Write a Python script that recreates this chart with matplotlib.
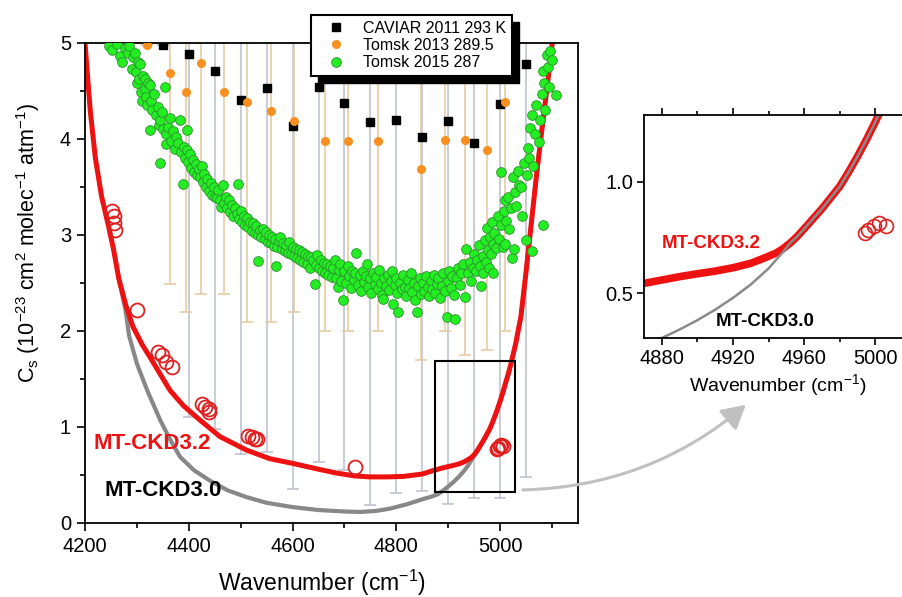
import numpy as np
import matplotlib.pyplot as plt
from matplotlib.patches import Rectangle, FancyArrowPatch
from matplotlib.ticker import MultipleLocator, FormatStrFormatter

plt.rcParams['font.family'] = ['Liberation Sans', 'DejaVu Sans']
plt.rcParams['mathtext.default'] = 'regular'

# MT-CKD3.2 continuum
ckd32_x = [4200, 4210, 4220, 4232, 4245, 4255, 4265, 4278, 4292, 4310,
           4325, 4345, 4364, 4390, 4422, 4460, 4511, 4556, 4601, 4650,
           4685, 4720, 4749, 4780, 4813, 4850, 4870, 4880, 4890, 4900,
           4910, 4920, 4930, 4938, 4944, 4948, 4952, 4956, 4960, 4965,
           4970, 4975, 4980, 4985, 4990, 4995, 5000, 5005, 5010, 5015,
           5020, 5030, 5040, 5050, 5060, 5070, 5080, 5090, 5100, 5110]
ckd32_y = [5.0, 4.3, 3.8, 3.4, 3.1, 2.85, 2.55, 2.28, 2.05, 1.86,
           1.73, 1.55, 1.38, 1.22, 1.07, 0.90, 0.76, 0.67, 0.62, 0.56,
           0.52, 0.49, 0.48, 0.48, 0.485, 0.51, 0.545, 0.56, 0.575, 0.588,
           0.60, 0.615, 0.635, 0.66, 0.68, 0.70, 0.725, 0.755, 0.79, 0.835,
           0.88, 0.93, 0.98, 1.045, 1.115, 1.19, 1.27, 1.355, 1.45, 1.54,
           1.64, 1.87, 2.15, 2.62, 3.12, 3.62, 4.08, 4.52, 4.98, 5.45]

# MT-CKD3.0 continuum (joins 3.2 above ~4948)
ckd30_x = [4265, 4278, 4285, 4300, 4320, 4345, 4365, 4383, 4410, 4441,
           4475, 4511, 4550, 4601, 4650, 4700, 4730, 4760, 4788, 4820,
           4852, 4868, 4880, 4890, 4900, 4910, 4920, 4930, 4940, 4948,
           4952, 4956, 4960, 4965, 4970, 4975, 4980, 4985, 4990, 4995,
           5000, 5005, 5010, 5015, 5020, 5030, 5040, 5050, 5060, 5070,
           5080, 5090, 5100, 5110]
ckd30_y = [2.55, 2.22, 1.95, 1.66, 1.38, 1.07, 0.86, 0.69, 0.55, 0.44,
           0.34, 0.27, 0.21, 0.165, 0.135, 0.12, 0.115, 0.125, 0.15, 0.195,
           0.25, 0.275, 0.30, 0.338, 0.38, 0.427, 0.48, 0.54, 0.612, 0.685,
           0.725, 0.755, 0.79, 0.835, 0.88, 0.93, 0.98, 1.045, 1.115, 1.19,
           1.27, 1.355, 1.45, 1.54, 1.64, 1.87, 2.15, 2.62, 3.12, 3.62,
           4.08, 4.52, 4.98, 5.45]

# open red circles
circ_x = [4252, 4255, 4256, 4258, 4300, 4341, 4348, 4357, 4367,
          4425, 4431, 4438, 4438, 4515, 4521, 4528, 4531, 4720,
          4994, 4996, 4999, 5002, 5006]
circ_y = [3.25, 3.20, 3.12, 3.05, 2.22, 1.78, 1.75, 1.68, 1.63,
          1.24, 1.21, 1.19, 1.16, 0.91, 0.90, 0.88, 0.87, 0.58,
          0.772, 0.786, 0.80, 0.816, 0.80]

# CAVIAR 2011 293 K
cav_x = [4350, 4400, 4450, 4500, 4550, 4600, 4650, 4700, 4750, 4800,
         4850, 4900, 4950, 5000, 5050]
cav_y = [4.98, 4.89, 4.71, 4.41, 4.53, 4.14, 4.54, 4.38, 4.18, 4.20,
         4.02, 4.19, 3.96, 4.36, 4.78]
cav_low = [4.98, 1.10, 0.98, 0.72, 0.74, 0.35, 0.64, 0.55, 0.185, 0.31,
           0.33, 0.195, 0.26, 0.26, 0.48]

# Tomsk 2013 289.5
t13_x = [4319, 4364, 4395, 4424, 4468, 4513, 4558, 4603, 4662, 4707,
         4765, 4847, 4894, 4932, 4974, 5010]
t13_y = [4.98, 4.69, 4.49, 4.79, 4.49, 4.39, 4.29, 4.19, 3.98, 3.98,
         3.98, 3.69, 3.99, 3.99, 3.89, 4.39]
t13_low = [4.98, 2.49, 2.20, 2.39, 2.39, 2.09, 2.09, 2.20, 2.00, 2.00,
           2.00, 1.70, 2.00, 1.75, 1.80, 2.00]

# Tomsk 2015 287
t15_x = [4246, 4252, 4262, 4268, 4271, 4278, 4283, 4285, 4290, 4293,
         4296, 4298, 4300, 4302,
         4305, 4306, 4308, 4309, 4312, 4315, 4316, 4318, 4320, 4322,
         4325, 4325, 4328, 4330, 4333, 4336, 4340, 4342, 4345, 4345,
         4348, 4350, 4354, 4356, 4357, 4360, 4363, 4366, 4370, 4373,
         4376, 4380, 4383, 4385, 4389, 4390, 4393, 4396, 4396, 4398,
         4402, 4405, 4408, 4410, 4413, 4416, 4419, 4422, 4425, 4427,
         4430, 4433, 4436, 4439, 4442, 4445, 4448, 4451, 4454, 4457,
         4460, 4463, 4466, 4468, 4471, 4474, 4477, 4480, 4483, 4486,
         4489, 4492, 4495, 4497, 4500,
         4503, 4506, 4509, 4512, 4515, 4518, 4521, 4524, 4527, 4530,
         4533, 4534, 4537, 4540, 4543, 4546, 4549, 4552, 4555, 4558,
         4561, 4564, 4567, 4569, 4570, 4573, 4576, 4579, 4582, 4585,
         4588, 4591, 4594, 4597, 4600, 4603, 4606, 4609, 4612, 4615,
         4618, 4621, 4624, 4627, 4630, 4633, 4636, 4640, 4643, 4645,
         4648,
         4651, 4654, 4657, 4660, 4663, 4666, 4669, 4672, 4675, 4678,
         4681, 4684, 4688, 4690, 4691, 4694, 4698, 4700, 4703, 4706,
         4709, 4712, 4715, 4718, 4721, 4723, 4726, 4729, 4732, 4735,
         4738, 4741, 4743, 4746, 4749, 4752, 4755, 4758, 4761, 4764,
         4767, 4770, 4773, 4775, 4777, 4780, 4783, 4786, 4789, 4792,
         4794, 4797, 4800, 4802, 4804, 4807, 4810, 4813, 4816, 4819,
         4822, 4825, 4828, 4831, 4834, 4836, 4839, 4842, 4845, 4848,
         4851, 4854, 4857, 4860, 4863, 4866, 4869, 4872, 4875, 4878,
         4881, 4884, 4887, 4890, 4893, 4897, 4899, 4902, 4905, 4908,
         4911, 4913, 4916, 4919, 4922, 4925, 4928, 4932, 4935, 4938,
         4941, 4944, 4947, 4950, 4953, 4956, 4959,
         4962, 4964, 4967, 4967, 4970, 4972, 4974, 4976, 4978, 4980,
         4983, 4985, 4986, 4986, 4989, 4992, 4995, 4998, 5001, 5002,
         5005, 5008, 5009, 5009, 5012, 5015, 5018, 5020, 5022, 5024,
         5026, 5028, 5031, 5034, 5037, 5040, 5043, 5046, 5050, 5052,
         5054, 5056, 5058, 5061, 5061, 5064, 5067, 5070, 5074, 5077,
         5080, 5082, 5083, 5085, 5087, 5090, 5092, 5095, 5097, 5100,
         5108]
t15_y = [4.97, 4.93, 4.99, 4.86, 4.80, 4.95, 4.90, 4.97, 4.73, 4.85,
         4.90, 4.70, 4.58, 4.80,
         4.62, 4.78, 4.49, 4.40, 4.66, 4.52, 4.63, 4.44, 4.35, 4.58,
         4.56, 4.09, 4.40, 4.30, 4.47, 4.25, 4.33, 4.15, 4.20, 3.75,
         4.28, 4.10, 4.54, 4.05, 3.95, 4.12, 4.22, 3.98, 4.08, 3.90,
         4.02, 3.96, 4.20, 3.86, 3.53, 3.92, 3.80, 4.09, 3.89, 3.76,
         3.84, 3.70, 3.78, 3.66, 3.74, 3.62, 3.69, 3.60, 3.72, 3.55,
         3.64, 3.50, 3.58, 3.46, 3.54, 3.42, 3.50, 3.40, 3.39, 3.47,
         3.36, 3.29, 3.52, 3.33, 3.40, 3.28, 3.36, 3.24, 3.31, 3.20,
         3.28, 3.22, 3.53, 3.17, 3.25,
         3.14, 3.20, 3.10, 3.18, 3.08, 3.14, 3.04, 3.12, 3.02, 3.09,
         3.00, 2.73, 3.05, 2.98, 3.06, 2.96, 3.03, 2.93, 3.00, 2.92,
         2.98, 2.89, 2.96, 2.68, 2.87, 2.94, 2.98, 2.85, 2.92, 2.83,
         2.90, 2.81, 2.93, 2.80, 2.87, 2.78, 2.85, 2.76, 2.84, 2.74,
         2.82, 2.72, 2.80, 2.70, 2.78, 2.66, 2.77, 2.74, 2.49, 2.69,
         2.79,
         2.66, 2.74, 2.62, 2.71, 2.60, 2.70, 2.58, 2.68, 2.56, 2.66,
         2.74, 2.55, 2.46, 2.64, 2.70, 2.52, 2.32, 2.62, 2.50, 2.68,
         2.57, 2.45, 2.63, 2.53, 2.60, 2.81, 2.48, 2.58, 2.42, 2.62,
         2.51, 2.57, 2.70, 2.46, 2.55, 2.40, 2.60, 2.49, 2.56, 2.44,
         2.64, 2.50, 2.38, 2.33, 2.55, 2.47, 2.58, 2.43, 2.52, 2.62,
         2.28, 2.48, 2.55, 2.40, 2.20, 2.50, 2.44, 2.58, 2.46, 2.36,
         2.53, 2.45, 2.60, 2.41, 2.50, 2.32, 2.20, 2.47, 2.55, 2.39,
         2.50, 2.42, 2.57, 2.46, 2.36, 2.52, 2.44, 2.58, 2.40, 2.49,
         2.55, 2.34, 2.47, 2.60, 2.42, 2.15, 2.52, 2.62, 2.45, 2.57,
         2.38, 2.13, 2.55, 2.66, 2.48, 2.60, 2.70, 2.35, 2.85, 2.60,
         2.72, 2.52, 2.66, 2.80, 2.62, 2.74, 2.90,
         2.68, 2.47, 2.78, 2.60, 2.95, 2.72, 3.07, 2.84, 2.66, 2.98,
         2.80, 3.14, 2.91, 2.60, 3.02, 2.86, 3.20, 2.96, 3.66, 3.10,
         2.88, 3.25, 3.36, 2.91, 3.15, 3.40, 3.06, 3.28, 2.76, 3.60,
         2.85, 3.45, 3.30, 3.67, 3.52, 3.50, 3.20, 3.75, 2.95, 3.62,
         3.91, 3.80, 4.11, 4.25, 2.83, 3.72, 4.05, 4.35, 3.97, 4.20,
         4.47, 3.10, 4.71, 4.58, 4.30, 4.87, 4.75, 4.54, 4.92, 4.82,
         4.46]

red = '#ee1111'
W, H = 902, 597
fig = plt.figure(figsize=(W / 100, H / 100), dpi=100)

ax = fig.add_axes([85 / W, 1 - 523 / H, 493 / W, 480 / H])
cav_err = np.array(cav_y) - np.array(cav_low)
t13_err = np.array(t13_y) - np.array(t13_low)
ax.errorbar(cav_x, cav_y, yerr=cav_err, fmt='none', ecolor='#b9bfc9',
            elinewidth=1.1, capsize=4, capthick=1.1, zorder=1)
ax.errorbar(t13_x, t13_y, yerr=t13_err, fmt='none', ecolor='#e6c89c',
            elinewidth=1.1, capsize=4, capthick=1.1, zorder=1)
ax.plot(ckd30_x, ckd30_y, color='#888888', lw=3, zorder=2)
ax.plot(ckd32_x, ckd32_y, color=red, lw=3.6, zorder=2.1)
ax.plot(circ_x, circ_y, 'o', mfc='none', mec='#e02020', ms=10, mew=1.3, zorder=3)
ax.plot(cav_x, cav_y, 's', color='black', ms=5.5, zorder=3,
        label='CAVIAR 2011 293 K')
ax.plot(t13_x, t13_y, 'o', color='#f7901e', mec='none', ms=6.5, zorder=3,
        label='Tomsk 2013 289.5')
ax.plot(t15_x, t15_y, 'o', mfc='#22ee22', mec='#2f8f2f', mew=0.6, ms=7,
        zorder=4, label='Tomsk 2015 287')

ax.text(4329, 0.83, 'MT-CKD3.2', color=red, fontsize=16, fontweight='bold',
        ha='center', va='center')
ax.text(4350, 0.34, 'MT-CKD3.0', color='black', fontsize=16, fontweight='bold',
        ha='center', va='center')
ax.add_patch(Rectangle((4874, 0.32), 154, 1.37, fill=False, ec='black',
                       lw=1.5, zorder=5))

ax.set_xlim(4200, 5150)
ax.set_ylim(0, 5)
ax.xaxis.set_major_locator(MultipleLocator(200))
ax.xaxis.set_minor_locator(MultipleLocator(100))
ax.yaxis.set_major_locator(MultipleLocator(1))
ax.yaxis.set_minor_locator(MultipleLocator(0.5))
ax.tick_params(which='both', direction='out', width=1.2, labelsize=14.5)
ax.tick_params(which='major', length=6, pad=4)
ax.tick_params(which='minor', length=3.5)
for s in ax.spines.values():
    s.set_linewidth(1.3)

fig.text(322 / W, 1 - 583 / H, 'Wavenumber (cm$^{-1}$)', fontsize=16.5,
         ha='center', va='center')
fig.text(28 / W, 1 - 243 / H,
         'C$_s$ (10$^{-23}$ cm$^2$ molec$^{-1}$ atm$^{-1}$)', fontsize=15.5,
         rotation=90, ha='center', va='center')

# zoomed inset
axi = fig.add_axes([644 / W, 1 - 338 / H, 267 / W, 223 / H])
axi.plot(ckd32_x, ckd32_y, color=red, lw=5.5)
axi.plot(ckd30_x, ckd30_y, color='#8a8a8a', lw=1.8)
axi.plot(circ_x, circ_y, 'o', mfc='none', mec='#e02020', ms=10, mew=1.2)
axi.text(4908, 0.724, 'MT-CKD3.2', color=red, fontsize=13.5, fontweight='bold',
         ha='center', va='center')
axi.text(4938, 0.372, 'MT-CKD3.0', color='black', fontsize=13.5,
         fontweight='bold', ha='center', va='center')
axi.set_xlim(4870, 5020)
axi.set_ylim(0.3, 1.3)
axi.xaxis.set_major_locator(MultipleLocator(40))
axi.xaxis.set_minor_locator(MultipleLocator(20))
axi.set_yticks([0.5, 1.0])
axi.yaxis.set_major_formatter(FormatStrFormatter('%.1f'))
axi.tick_params(which='both', direction='out', top=True, width=1.2,
                labelsize=14.5)
axi.tick_params(which='major', length=5, pad=3)
axi.tick_params(which='minor', length=3)
for s in axi.spines.values():
    s.set_linewidth(1.3)
axi.set_xlabel('Wavenumber (cm$^{-1}$)', fontsize=14, labelpad=3)

arrow = FancyArrowPatch((520 / W, 1 - 490 / H), (748 / W, 1 - 403 / H),
                        transform=fig.transFigure,
                        connectionstyle='arc3,rad=0.18',
                        arrowstyle='-|>,head_length=0.72,head_width=0.4',
                        mutation_scale=20, color='#c0c0c0', lw=2.2)
fig.add_artist(arrow)

leg = fig.legend(*ax.get_legend_handles_labels(), loc='upper left',
                 bbox_to_anchor=(311 / W, 1 - 15 / H),
                 bbox_transform=fig.transFigure, fontsize=11.5, fancybox=False,
                 framealpha=1, borderaxespad=0, borderpad=0.35,
                 labelspacing=0.15, handlelength=2.4, handletextpad=0.5)
leg.get_frame().set_edgecolor('black')
leg.get_frame().set_linewidth(1.5)

# black drop shadow behind the legend box
fig.canvas.draw()
bb = leg.get_window_extent()
shadow = Rectangle(((bb.x0 + 7) / W, (bb.y0 - 7) / H), bb.width / W,
                   bb.height / H, transform=fig.transFigure,
                   color='black', zorder=4.9)
fig.add_artist(shadow)

fig.savefig('out.png', dpi=100)
